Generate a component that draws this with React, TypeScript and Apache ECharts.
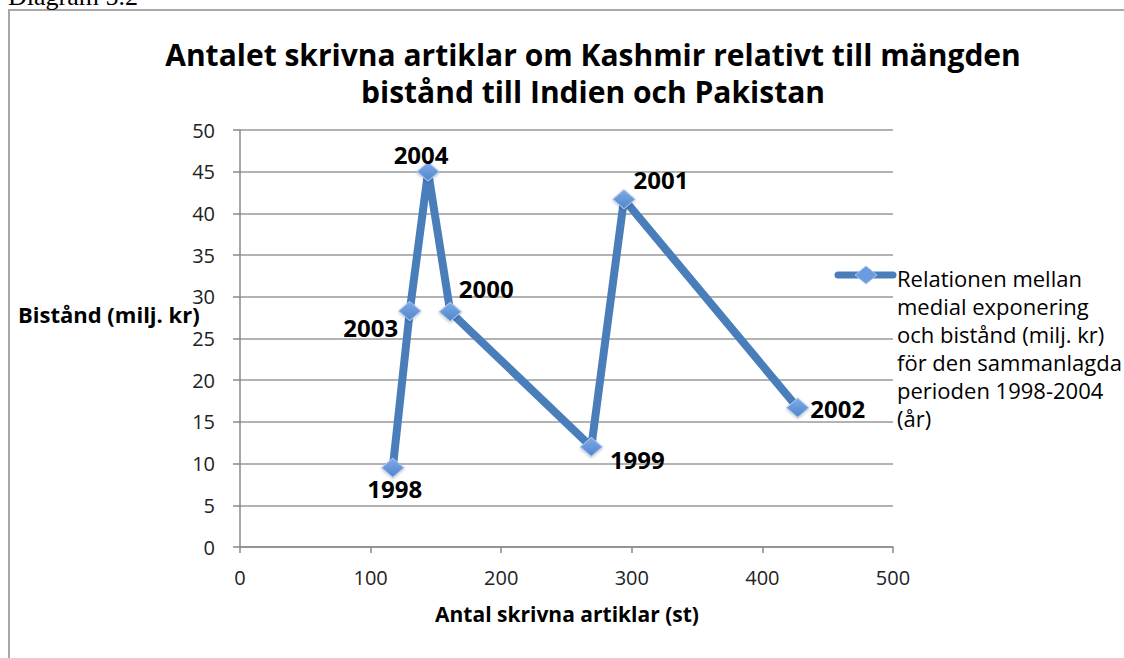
import React, { useEffect, useRef } from "react";
import * as echarts from "echarts";

const years = ["1998", "2003", "2004", "2000", "1999", "2001", "2002"];
const articles = [117, 130, 144, 161, 269, 294, 427];
const aid = [9.5, 28.3, 45, 28.2, 12, 41.7, 16.7];
const xTicks = [0, 100, 200, 300, 400, 500];
const yTicks = [0, 5, 10, 15, 20, 25, 30, 35, 40, 45, 50];

const titleText = "Antalet skrivna artiklar om Kashmir relativt till mängden\nbistånd till Indien och Pakistan";
const xName = "Antal skrivna artiklar (st)";
const yName = "Bistånd (milj. kr)";
const legendText = "Relationen mellan\nmedial exponering\noch bistånd (milj. kr)\nför den sammanlagda\nperioden 1998-2004\n(år)";

// label offsets (pixels) relative to each marker, by year
const labelOffsets: Record<string, [number, number]> = {
  "1998": [2, 21],
  "2003": [-39, 17],
  "2004": [-7, -17],
  "2000": [36, -23],
  "1999": [46, 13],
  "2001": [37, -20],
  "2002": [40, 1],
};

const FONT = "'Open Sans', Lato, sans-serif";
const LINE = "#4a7ebb";

export default function App() {
  const ref = useRef<HTMLDivElement>(null);
  useEffect(() => {
    if (!ref.current) return;
    const chart = echarts.init(ref.current, null, { renderer: "svg" });
    const data = years.map((y, i) => ({
      value: [articles[i], aid[i]],
      name: y,
      label: {
        show: true,
        position: "inside",
        offset: labelOffsets[y],
        formatter: y,
        color: "#000",
        fontFamily: FONT,
        fontWeight: "bold",
        fontSize: 24,
      },
    }));
    const markerColor = new echarts.graphic.LinearGradient(0, 0, 0, 1, [
      { offset: 0, color: "#7eaae6" },
      { offset: 1, color: "#4f85cc" },
    ]);
    chart.setOption({
      animation: false,
      backgroundColor: "#fff",
      title: {
        text: titleText,
        left: 588,
        top: 31,
        textAlign: "center",
        textStyle: {
          fontFamily: FONT,
          fontWeight: "bold",
          fontSize: 30,
          lineHeight: 37,
          color: "#000",
        },
      },
      grid: { left: 240, top: 130, right: 231, bottom: 111, containLabel: false },
      xAxis: {
        type: "value",
        min: 0,
        max: 500,
        interval: 100,
        axisLine: { show: true, lineStyle: { color: "#8a8a8a", width: 1.5 } },
        axisTick: { show: true, length: 6, lineStyle: { color: "#8a8a8a", width: 1.5 } },
        splitLine: { show: false },
        axisLabel: {
          margin: 20,
          color: "#222",
          fontFamily: FONT,
          fontSize: 20,
          formatter: (v: number) => (xTicks.includes(v) ? String(v) : ""),
        },
      },
      yAxis: {
        type: "value",
        min: 0,
        max: 50,
        interval: 5,
        axisLine: { show: true, lineStyle: { color: "#8a8a8a", width: 1.5 } },
        axisTick: { show: true, length: 7, lineStyle: { color: "#8a8a8a", width: 1.5 } },
        splitLine: { show: true, lineStyle: { color: "#9a9a9a", width: 1.5 } },
        axisLabel: {
          margin: 25,
          color: "#222",
          fontFamily: FONT,
          fontSize: 20,
          formatter: (v: number) => (yTicks.includes(v) ? String(v) : ""),
        },
      },
      series: [
        {
          type: "line",
          name: "Relationen",
          data,
          symbol: "diamond",
          symbolSize: [22, 19],
          lineStyle: { color: LINE, width: 8, cap: "round", join: "round" },
          itemStyle: {
            color: markerColor,
            borderColor: "#a9c6ee",
            borderWidth: 1,
            shadowColor: "rgba(0,0,0,0.25)",
            shadowBlur: 3,
            shadowOffsetY: 1,
          },
          z: 3,
        },
      ],
      graphic: [
        {
          type: "rect",
          shape: { x: 9, y: 10, width: 1300, height: 800 },
          style: { fill: "none", stroke: "#a8a8a8", lineWidth: 2 },
          silent: true,
          z: -1,
        },
        {
          type: "text",
          x: 8,
          y: -4,
          style: {
            text: "Diagram 5.2",
            font: "26px 'Liberation Serif', serif",
            fill: "#000",
            verticalAlign: "middle",
          },
        },
        {
          type: "text",
          x: 18,
          y: 314,
          style: {
            text: yName,
            fontFamily: FONT,
            fontWeight: "bold",
            fontSize: 22,
            fill: "#000",
            verticalAlign: "middle",
            align: "left",
          },
          z: 10,
        },
        {
          type: "text",
          x: 567,
          y: 614,
          style: {
            text: xName,
            fontFamily: FONT,
            fontWeight: "bold",
            fontSize: 21,
            fill: "#000",
            verticalAlign: "middle",
            align: "center",
          },
        },
        {
          type: "line",
          shape: { x1: 838, y1: 275, x2: 893, y2: 275 },
          style: { stroke: LINE, lineWidth: 7, lineCap: "round" },
        },
        {
          type: "polygon",
          shape: { points: [[866, 266], [877, 275], [866, 284], [855, 275]] },
          style: { fill: "#6b9ce0", stroke: "#a9c6ee", lineWidth: 1 },
        },
        {
          type: "text",
          x: 897,
          y: 264,
          style: {
            text: legendText,
            fontFamily: FONT,
            fontSize: 22,
            lineHeight: 28,
            fill: "#000",
            verticalAlign: "top",
            align: "left",
          },
        },
      ],
    });
    return () => chart.dispose();
  }, []);
  return (
    <div
      ref={ref}
      style={{ position: "absolute", left: 0, top: 0, width: 1124, height: 658 }}
    />
  );
}
